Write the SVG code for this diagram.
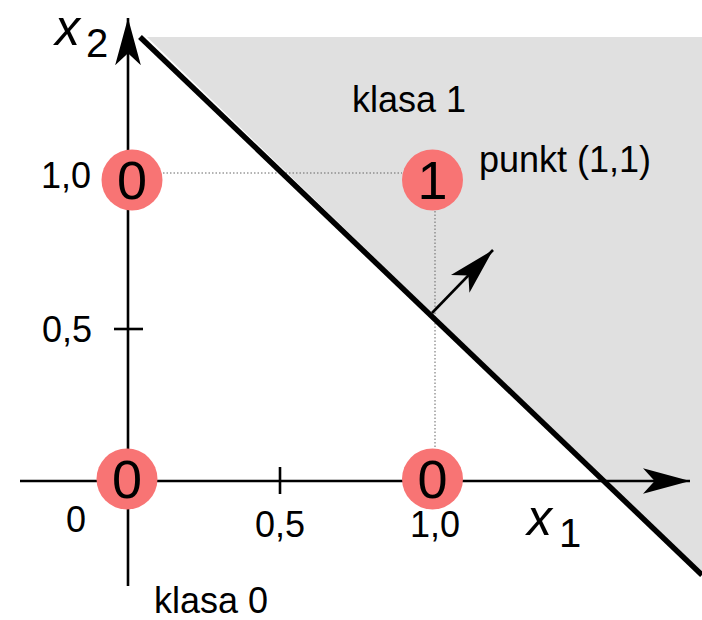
<svg xmlns="http://www.w3.org/2000/svg" width="702" height="620" viewBox="0 0 702 620">
  <style>
    .lbl { font-family: "Liberation Sans", Arial, sans-serif; font-size: 36px; fill: #000; }
    .big { font-family: "Liberation Sans", Arial, sans-serif; font-size: 54px; fill: #000; text-anchor: middle; }
    .var { font-family: "Liberation Sans", Arial, sans-serif; font-size: 50px; font-style: italic; fill: #000; }
    .sub { font-family: "Liberation Sans", Arial, sans-serif; font-size: 40px; fill: #000; }
    .axis { stroke: #000; stroke-width: 2.6; fill: none; }
    .dot { stroke: #666; stroke-width: 1; stroke-dasharray: 1.5 2; fill: none; }
    .pt { fill: #f87474; }
  </style>
  <defs>
    <marker id="head" markerUnits="userSpaceOnUse" markerWidth="50" markerHeight="30" viewBox="-44 -14 46 28" refX="0" refY="0" orient="auto">
      <path d="M0,0 L-44,-12 L-33,0 L-44,12 Z" fill="#000"/>
    </marker>
  </defs>

  <g id="region-class1">
    <polygon points="147,37 702,37 702,575" fill="#e0e0e0"/>
  </g>

  <g id="guides">
    <line class="dot" x1="163" y1="173" x2="402" y2="173"/>
    <line class="dot" x1="435" y1="211" x2="435" y2="449"/>
  </g>

  <g id="connectors">
    <line id="x-axis" class="axis" x1="20" y1="481" x2="690" y2="481" marker-end="url(#head)"/>
    <line id="y-axis" class="axis" x1="128" y1="586" x2="128" y2="18" marker-end="url(#head)"/>
    <line id="tick-x" class="axis" x1="280" y1="467" x2="280" y2="494"/>
    <line id="tick-y" class="axis" x1="114" y1="329" x2="143" y2="329"/>
    <line id="boundary" stroke="#000" stroke-width="5.5" x1="140" y1="37" x2="702" y2="575"/>
    <line id="normal" class="axis" x1="432" y1="313" x2="493" y2="250" marker-end="url(#head)"/>
  </g>

  <g id="node-p01">
    <circle class="pt" cx="132" cy="180" r="30.5"/>
    <text class="big" x="132" y="199">0</text>
  </g>
  <g id="node-p11">
    <circle class="pt" cx="432.5" cy="180" r="30.5"/>
    <text class="big" x="432.5" y="199">1</text>
  </g>
  <g id="node-p00">
    <circle class="pt" cx="127" cy="479" r="30.5"/>
    <text class="big" x="127" y="498">0</text>
  </g>
  <g id="node-p10">
    <circle class="pt" cx="432.5" cy="479" r="30.5"/>
    <text class="big" x="432.5" y="498">0</text>
  </g>

  <g id="labels">
    <text class="var" x="55" y="45">x</text>
    <text class="sub" x="86" y="57">2</text>
    <text class="var" x="527" y="535">x</text>
    <text class="sub" x="559" y="547">1</text>
    <text class="lbl" x="91" y="188" text-anchor="end">1,0</text>
    <text class="lbl" x="92" y="342" text-anchor="end">0,5</text>
    <text class="lbl" x="76" y="532" text-anchor="middle">0</text>
    <text class="lbl" x="280" y="537" text-anchor="middle">0,5</text>
    <text class="lbl" x="435" y="537" text-anchor="middle">1,0</text>
    <text class="lbl" x="352" y="112">klasa 1</text>
    <text class="lbl" x="479" y="172">punkt (1,1)</text>
    <text class="lbl" x="154" y="613">klasa 0</text>
  </g>
</svg>
